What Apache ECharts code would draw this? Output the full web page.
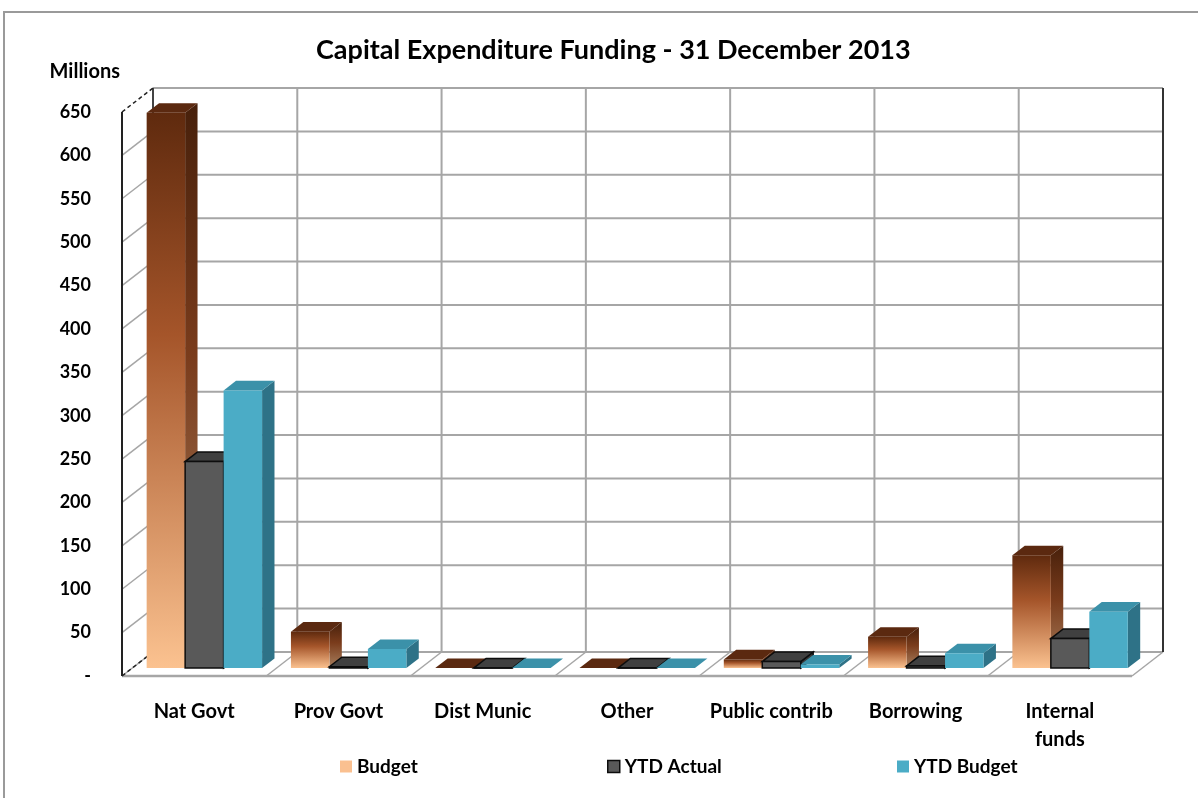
<!DOCTYPE html>
<html>
<head>
<meta charset="utf-8">
<script src="https://cdn.jsdelivr.net/npm/echarts@6/dist/echarts.min.js"></script>
<style>
  html, body { margin: 0; padding: 0; background: #ffffff; }
  #chart { width: 1198px; height: 798px; }
</style>
</head>
<body>
<div id="chart"></div>
<script>
// Capital expenditure funding sources (R millions)
const categories = ['Nat Govt', 'Prov Govt', 'Dist Munic', 'Other', 'Public contrib', 'Borrowing', 'Internal\nfunds'];
const budget     = [640, 42, 0, 0, 10, 36, 130];
const ytdActual  = [238, 1.5, 0, 0, 7.5, 2.5, 34];
const ytdBudget  = [320, 22, 0, 0, 4, 17, 65];
const seriesNames = ['Budget', 'YTD Actual', 'YTD Budget'];

const FONT = 'Lato';
const Y_MAX = 650;
const Y_STEP = 50;

// Pseudo-3D projection: offset from the front plane to the back wall
const DEPTH = [31, -24];
const BAR_FRONT = 0.33;   // depth fraction of the bar front faces
const BAR_BACK = 0.73;    // depth fraction of the bar back faces
const GROUP = 0.8;        // share of a category taken by its cluster
const GRID_COLOR = '#a6a6a6';

const grad = (stops) => new echarts.graphic.LinearGradient(0, 0, 0, 1,
  stops.map(([offset, color]) => ({ offset, color })));

const barStyles = [
  {
    front: () => grad([[0, '#5f2a0e'], [0.4, '#a5552a'], [1, '#fbc290']]),
    top: '#5b2910',
    side: () => grad([[0, '#47200b'], [0.45, '#7a3c1c'], [1, '#a8805f']]),
    stroke: null
  },
  { front: () => '#595959', top: '#404040', side: () => '#383838', stroke: '#0d0d0d' },
  { front: () => '#4bacc6', top: '#3b91a9', side: () => '#2e7287', stroke: null }
];

function renderWalls(params, api) {
  const band = api.size([1, 0])[0];
  const n = categories.length;
  const left = api.coord([0, 0])[0] - band / 2;
  const right = left + band * n;
  const y0 = api.coord([0, 0])[1];
  const yTop = api.coord([0, Y_MAX])[1];
  const [dx, dy] = DEPTH;
  const children = [];
  const line = (x1, y1, x2, y2, stroke, lineWidth, lineDash) => children.push({
    type: 'line',
    shape: { x1, y1, x2, y2 },
    style: { stroke, lineWidth, lineDash: lineDash || null }
  });
  // back wall and side wall gridlines
  for (let v = 0; v <= Y_MAX; v += Y_STEP) {
    const y = api.coord([0, v])[1];
    line(left + dx, y + dy, right + dx, y + dy, GRID_COLOR, 2);
    if (v > 0 && v < Y_MAX) line(left, y, left + dx, y + dy, GRID_COLOR, 1.5);
  }
  // category dividers on the back wall and floor
  for (let i = 0; i <= n; i++) {
    const x = left + i * band;
    line(x + dx, y0 + dy, x + dx, yTop + dy, GRID_COLOR, 2);
    line(x, y0, x + dx, y0 + dy, GRID_COLOR, 1.5);
  }
  // floor front edge
  line(left, y0, right, y0, GRID_COLOR, 2.5);
  // wall edges
  line(left + dx, y0 + dy, left + dx, yTop + dy, '#222222', 1.5);
  line(left, y0, left + dx, y0 + dy, '#222222', 1.5, [4, 3]);
  line(left, yTop, left + dx, yTop + dy, '#222222', 1.5, [4, 3]);
  line(left, y0, left, yTop, '#222222', 2);
  line(right + dx, y0 + dy, right + dx, yTop + dy, '#333333', 2);
  return { type: 'group', children };
}

function makeBarRenderer(s) {
  return function (params, api) {
    const ci = api.value(0);
    const v = api.value(1);
    const band = api.size([1, 0])[0];
    const base = api.coord([ci, 0]);
    const top = api.coord([ci, v]);
    const bw = band * GROUP / 3;
    const x = base[0] - band * GROUP / 2 + s * bw;
    const [dx, dy] = DEPTH;
    const fx = dx * BAR_FRONT, fy = dy * BAR_FRONT;
    const bx = dx * BAR_BACK, by = dy * BAR_BACK;
    const st = barStyles[s];
    const stroke = st.stroke || null;
    const lw = st.stroke ? 1.5 : 0;
    const yt = top[1], yb = base[1];
    return {
      type: 'group',
      children: [
        {
          type: 'polygon',
          shape: { points: [[x + bw + fx, yt + fy], [x + bw + bx, yt + by], [x + bw + bx, yb + by], [x + bw + fx, yb + fy]] },
          style: { fill: st.side(), stroke, lineWidth: lw }
        },
        {
          type: 'polygon',
          shape: { points: [[x + fx, yt + fy], [x + bw + fx, yt + fy], [x + bw + bx, yt + by], [x + bx, yt + by]] },
          style: { fill: st.top, stroke, lineWidth: lw }
        },
        {
          type: 'rect',
          shape: { x: x + fx, y: yt + fy, width: bw, height: Math.max(yb - yt, 0) },
          style: { fill: st.front(), stroke, lineWidth: lw }
        }
      ]
    };
  };
}

const seriesValues = [budget, ytdActual, ytdBudget];
const legendColors = [
  { color: '#fac090' },
  { color: '#595959', borderColor: '#0d0d0d', borderWidth: 1.5 },
  { color: '#4bacc6' }
];
const legendLeft = [340, 607, 897];

const labelStyle = { fontFamily: FONT, fontWeight: 'bold', fontSize: 18, color: '#000000' };
const textStyleAt = (size) => Object.assign({}, labelStyle, { fontSize: size });

const chart = echarts.init(document.getElementById('chart'), null, { renderer: 'canvas' });
chart.setOption({
  animation: false,
  backgroundColor: '#ffffff',
  title: {
    text: 'Capital Expenditure Funding - 31 December 2013',
    left: 311,
    top: 32,
    textStyle: textStyleAt(27)
  },
  graphic: [{
    type: 'rect',
    shape: { x: 4, y: 12, width: 1300, height: 900 },
    style: { fill: 'none', stroke: '#9a9a9a', lineWidth: 2 },
    silent: true
  }],
  legend: seriesNames.map((name, i) => ({
    data: [{ name, itemStyle: legendColors[i] }],
    left: legendLeft[i],
    top: 757,
    padding: 0,
    icon: 'rect',
    itemWidth: 12,
    itemHeight: 12,
    itemGap: 8,
    selectedMode: false,
    textStyle: textStyleAt(19)
  })),
  grid: { left: 122, right: 66, top: 112, bottom: 122 },
  xAxis: {
    type: 'category',
    data: categories,
    axisLine: { show: false },
    axisTick: { show: false },
    splitLine: { show: false },
    axisLabel: Object.assign({ interval: 0, margin: 22, lineHeight: 28 }, textStyleAt(20))
  },
  yAxis: {
    type: 'value',
    min: 0,
    max: Y_MAX,
    interval: Y_STEP,
    name: 'Millions',
    nameLocation: 'end',
    nameGap: 30,
    nameTextStyle: Object.assign({ align: 'right', padding: [0, 2, 0, 0] }, textStyleAt(20)),
    axisLine: { show: false },
    axisTick: { show: false },
    splitLine: { show: false },
    axisLabel: Object.assign({ margin: 31, formatter: (v) => (v === 0 ? '-' : String(v)) }, textStyleAt(18))
  },
  series: [
    {
      type: 'custom',
      name: 'walls',
      silent: true,
      z: 1,
      clip: false,
      renderItem: renderWalls,
      encode: { x: 0, y: 1 },
      data: [[0, 0]]
    }
  ].concat(seriesNames.map((name, s) => ({
    type: 'custom',
    name,
    z: 2 + s,
    clip: false,
    itemStyle: { color: legendColors[s].color },
    renderItem: makeBarRenderer(s),
    encode: { x: 0, y: 1 },
    data: seriesValues[s].map((v, i) => [i, v])
  })))
});
</script>
</body>
</html>
